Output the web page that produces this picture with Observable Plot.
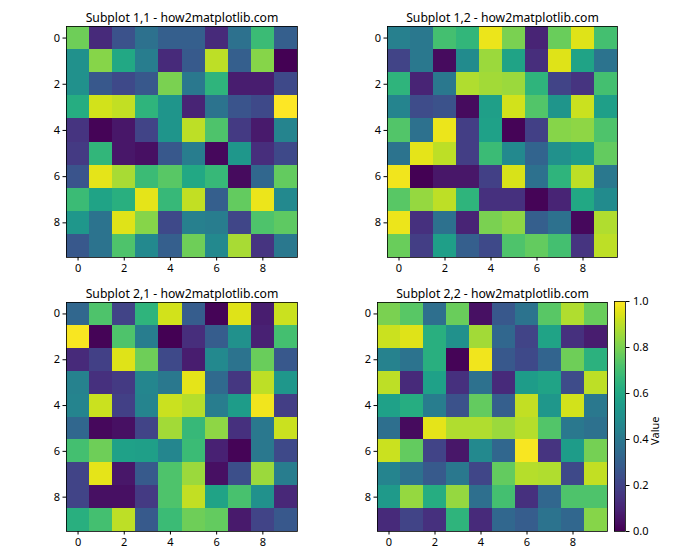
<!DOCTYPE html>
<html><head><meta charset="utf-8">
<script src="https://cdn.jsdelivr.net/npm/d3@7"></script>
<script src="https://cdn.jsdelivr.net/npm/@observablehq/plot@0.6"></script>
<style>
body{margin:0;background:#fff;}
#fig{position:relative;width:700px;height:560px;background:#fff;overflow:hidden;}
#fig svg{position:absolute;}
</style></head><body><div id="fig"></div>
<script>
const rowIdx = [0,1,2,3,4,5,6,7,8,9];
const colIdx = [0,1,2,3,4,5,6,7,8,9];
const xTicks = [0,2,4,6,8];
const yTicks = [0,2,4,6,8];
const titles = ["Subplot 1,1 - how2matplotlib.com","Subplot 1,2 - how2matplotlib.com","Subplot 2,1 - how2matplotlib.com","Subplot 2,2 - how2matplotlib.com"];
const colorbarTicks = [0,0.2,0.4,0.6,0.8,1.0];
const colorbarLabel = "Value";

const grid11 = [
 [0.78,0.12,0.25,0.37,0.30,0.30,0.12,0.37,0.68,0.30],
 [0.50,0.82,0.60,0.42,0.12,0.28,0.90,0.30,0.82,0.00],
 [0.50,0.27,0.22,0.27,0.80,0.40,0.65,0.08,0.08,0.22],
 [0.62,0.93,0.91,0.65,0.52,0.10,0.38,0.26,0.22,1.00],
 [0.15,0.01,0.06,0.20,0.52,0.90,0.72,0.17,0.07,0.45],
 [0.17,0.66,0.06,0.04,0.27,0.42,0.02,0.53,0.13,0.22],
 [0.26,0.96,0.87,0.68,0.74,0.60,0.67,0.03,0.33,0.76],
 [0.68,0.58,0.63,0.96,0.67,0.91,0.30,0.76,0.97,0.47],
 [0.53,0.38,0.95,0.82,0.22,0.43,0.42,0.21,0.72,0.75],
 [0.27,0.38,0.72,0.47,0.30,0.78,0.47,0.87,0.15,0.40]
];
const grid12 = [
 [0.43,0.40,0.70,0.66,0.97,0.80,0.10,0.77,0.95,0.70],
 [0.20,0.40,0.03,0.48,0.85,0.58,0.13,0.95,0.58,0.38],
 [0.65,0.10,0.40,0.88,0.86,0.85,0.65,0.20,0.15,0.70],
 [0.45,0.23,0.25,0.03,0.56,0.93,0.73,0.52,0.92,0.56],
 [0.73,0.37,0.97,0.18,0.57,0.01,0.19,0.82,0.83,0.72],
 [0.38,0.96,0.90,0.18,0.68,0.47,0.32,0.50,0.55,0.76],
 [0.98,0.00,0.06,0.06,0.19,0.94,0.37,0.65,0.90,0.40],
 [0.74,0.84,0.90,0.65,0.14,0.14,0.01,0.10,0.60,0.48],
 [0.97,0.14,0.37,0.10,0.80,0.83,0.30,0.37,0.02,0.88],
 [0.77,0.18,0.56,0.30,0.22,0.72,0.76,0.70,0.15,0.90]
];
const grid21 = [
 [0.33,0.72,0.20,0.65,0.93,0.29,0.01,0.95,0.08,0.92],
 [0.99,0.01,0.72,0.42,0.00,0.13,0.29,0.50,0.09,0.70],
 [0.12,0.19,0.95,0.78,0.22,0.08,0.47,0.38,0.77,0.27],
 [0.44,0.14,0.17,0.46,0.40,0.96,0.34,0.16,0.90,0.53],
 [0.45,0.92,0.19,0.45,0.92,0.89,0.42,0.55,0.98,0.18],
 [0.33,0.02,0.04,0.20,0.86,0.67,0.83,0.14,0.40,0.92],
 [0.70,0.78,0.57,0.56,0.46,0.68,0.09,0.01,0.40,0.22],
 [0.20,0.96,0.06,0.28,0.72,0.85,0.04,0.24,0.85,0.42],
 [0.20,0.04,0.04,0.17,0.72,0.91,0.58,0.71,0.50,0.11],
 [0.63,0.70,0.90,0.28,0.68,0.78,0.76,0.07,0.20,0.27]
];
const grid22 = [
 [0.80,0.74,0.36,0.77,0.04,0.27,0.38,0.74,0.88,0.77],
 [0.92,0.95,0.63,0.50,0.86,0.33,0.20,0.58,0.14,0.08],
 [0.44,0.38,0.63,0.01,0.98,0.27,0.22,0.32,0.78,0.64],
 [0.90,0.12,0.57,0.14,0.37,0.12,0.55,0.58,0.23,0.90],
 [0.57,0.62,0.42,0.25,0.76,0.30,0.91,0.53,0.93,0.40],
 [0.36,0.03,0.96,0.88,0.88,0.85,0.89,0.73,0.40,0.37],
 [0.92,0.76,0.20,0.06,0.47,0.33,0.99,0.15,0.55,0.79],
 [0.45,0.37,0.28,0.40,0.21,0.76,0.89,0.88,0.22,0.91],
 [0.54,0.84,0.62,0.84,0.36,0.70,0.14,0.33,0.72,0.72],
 [0.12,0.20,0.14,0.65,0.12,0.33,0.29,0.38,0.33,0.82]
];

const FONT = "'Noto Sans', 'DejaVu Sans', sans-serif";
const fig = document.getElementById("fig");

function subplot(grid, title, ax, ay, w, h) {
  const data = rowIdx.flatMap((r, i) => colIdx.map((c, j) => ({row: r, col: c, value: grid[i][j]})));
  const mL = 45, mT = 30, mR = 15, mB = 25;
  const svg = Plot.plot({
    width: mL + w + mR, height: mT + h + mB,
    marginLeft: mL, marginTop: mT, marginRight: mR, marginBottom: mB,
    x: {domain: [-0.5, 9.5]},
    y: {domain: [-0.5, 9.5], reverse: true},
    color: {type: "linear", scheme: "viridis", domain: [0, 1]},
    style: {fontFamily: FONT, fontSize: "11px", color: "black", background: "transparent", overflow: "visible", maxWidth: "none"},
    marks: [
      Plot.rect(data, {x1: d => d.col - 0.5, x2: d => d.col + 0.5, y1: d => d.row - 0.5, y2: d => d.row + 0.5, fill: "value", shapeRendering: "crispEdges"}),
      Plot.frame({stroke: "black", strokeWidth: 0.8}),
      Plot.axisX({ticks: xTicks, tickSize: 3.5, tickPadding: 3, label: null, anchor: "bottom", fontSize: 11}),
      Plot.axisY({ticks: yTicks, tickSize: 3.5, tickPadding: 3, label: null, anchor: "left", fontSize: 11}),
      Plot.text([title], {text: d => d, frameAnchor: "top", dy: -5, lineAnchor: "bottom", fontSize: 12.2, fill: "black"})
    ]
  });
  svg.style.left = (ax - mL) + "px";
  svg.style.top = (ay - mT) + "px";
  fig.appendChild(svg);
}

subplot(grid11, titles[0], 66, 26, 231, 231);
subplot(grid12, titles[1], 387, 26, 230, 231);
subplot(grid21, titles[2], 66, 302, 231, 229);
subplot(grid22, titles[3], 377, 302, 230, 229);

// colorbar
(function () {
  const steps = d3.range(0, 1, 0.004);
  const ax = 614, ay = 301, w = 11, h = 230;
  const mL = 5, mT = 10, mR = 60, mB = 10;
  const svg = Plot.plot({
    width: mL + w + mR, height: mT + h + mB,
    marginLeft: mL, marginTop: mT, marginRight: mR, marginBottom: mB,
    x: {domain: [0, 1], axis: null},
    y: {domain: [0, 1]},
    color: {type: "linear", scheme: "viridis", domain: [0, 1]},
    style: {fontFamily: FONT, fontSize: "11px", color: "black", background: "transparent", overflow: "visible", maxWidth: "none"},
    marks: [
      Plot.rect(steps, {x1: () => 0, x2: () => 1, y1: d => d, y2: d => Math.min(1, d + 0.0045), fill: d => d + 0.002, shapeRendering: "crispEdges"}),
      Plot.frame({stroke: "black", strokeWidth: 0.8}),
      Plot.axisY({ticks: colorbarTicks, tickFormat: d3.format(".1f"), tickSize: 3.5, tickPadding: 4, label: null, anchor: "right", fontSize: 11}),
      Plot.text([colorbarLabel], {text: d => d, frameAnchor: "right", dx: 30, rotate: -90, fontSize: 11, fill: "black"})
    ]
  });
  svg.style.left = (ax - mL) + "px";
  svg.style.top = (ay - mT) + "px";
  fig.appendChild(svg);
})();
</script>
</body></html>
